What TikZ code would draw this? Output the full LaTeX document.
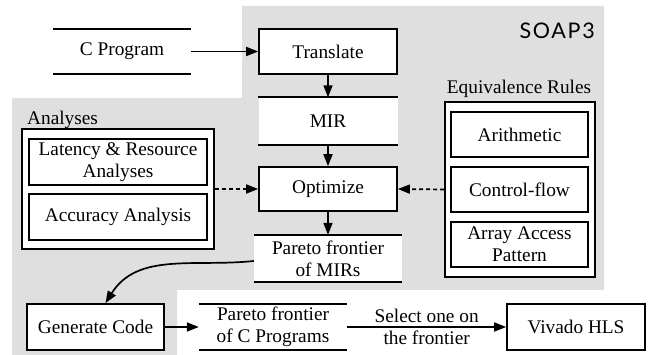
\documentclass[tikz,border=0pt]{standalone}
\usepackage{fontspec}
\newfontfamily\tfont{Liberation Serif}
\newfontfamily\soapfont[LetterSpace=8]{Lato}
\usetikzlibrary{arrows.meta,calc}
\begin{document}
\begin{tikzpicture}[x=1pt,y=-1pt,
  txt/.style={font=\tfont\fontsize{19.3}{22}\selectfont, inner sep=0pt, align=center},
  boxnode/.style={txt, draw, line width=1.7pt, fill=white},
  storenode/.style={txt, fill=white},
  barline/.style={line width=1.7pt},
  arr/.style={line width=1.7pt, -{Triangle[length=12pt,width=9pt]}},
  dasharr/.style={arr, dash pattern=on 4pt off 3pt}
]
\useasboundingbox (0,0) rectangle (656,355);
\fill[gray!25] (12,98) -- (242,98) -- (242,6) -- (604,6) -- (604,290) -- (177,290) -- (177,355) -- (12,355) -- cycle;

% SOAP3 label
\node[anchor=base east, inner sep=0pt, font=\soapfont\fontsize{21.5}{24}\selectfont] (soap) at (595,39) {SOAP3};

% main column
\node[storenode, minimum width=138pt, minimum height=45pt] (cprog) at (122,51.5) {C Program};
\draw[barline] (cprog.north west) -- (cprog.north east);
\draw[barline] (cprog.south west) -- (cprog.south east);

\node[boxnode, minimum width=138pt, minimum height=45pt] (translate) at (328,51.5) {Translate};

\node[storenode, minimum width=139pt, minimum height=47pt] (mir) at (328,121) {MIR};
\draw[barline] (mir.north west) -- (mir.north east);
\draw[barline] (mir.south west) -- (mir.south east);

\node[boxnode, minimum width=138pt, minimum height=44pt] (optimize) at (328,189) {Optimize};

\node[storenode, minimum width=148pt, minimum height=47pt] (pmir) at (328,258.5) {Pareto frontier\\of MIRs};
\draw[barline] (pmir.north west) -- (pmir.north east);
\draw[barline] (pmir.south west) -- (pmir.south east);

% Analyses
\node[txt, anchor=base west] (analab) at (27,125) {Analyses};
\node[boxnode, minimum width=192pt, minimum height=120pt] (anabox) at (118,189) {};
\node[boxnode, minimum width=178pt, minimum height=46pt] (latency) at (118,162) {Latency \& Resource\\Analyses};
\node[boxnode, minimum width=178pt, minimum height=46pt] (accuracy) at (118,217) {Accuracy Analysis};

% Equivalence rules
\node[txt, anchor=base] (eqlab) at (519,94) {Equivalence Rules};
\node[boxnode, minimum width=150pt, minimum height=175pt] (eqbox) at (520,189.5) {};
\node[boxnode, minimum width=137pt, minimum height=45pt] (arith) at (519.5,134.5) {Arithmetic};
\node[boxnode, minimum width=137pt, minimum height=45pt] (ctrl) at (519.5,189.5) {Control-flow};
\node[boxnode, minimum width=137pt, minimum height=45pt] (array) at (519.5,244.5) {Array Access\\Pattern};

% bottom row
\node[boxnode, minimum width=137pt, minimum height=46pt] (gencode) at (95.5,327) {Generate Code};
\node[storenode, minimum width=148pt, minimum height=46pt] (pcprog) at (273,327) {Pareto frontier\\of C Programs};
\draw[barline] (pcprog.north west) -- (pcprog.north east);
\draw[barline] (pcprog.south west) -- (pcprog.south east);
\node[boxnode, minimum width=138pt, minimum height=46pt] (vivado) at (576,327) {Vivado HLS};

% connectors
\draw[arr] (cprog.east) -- (translate.west);
\draw[arr] (translate.south) -- (mir.north);
\draw[arr] (mir.south) -- (optimize.north);
\draw[arr] (optimize.south) -- (pmir.north);
\draw[dasharr] (anabox.east) -- (optimize.west);
\draw[dasharr] (eqbox.west) -- (optimize.east);
\draw[arr] ([yshift=-2.5pt]pmir.west) to[out=186,in=58] ([xshift=10pt]gencode.north);
\draw[arr] (gencode.east) -- (pcprog.west);
\draw[arr] (pcprog.east) -- node[txt, above=3pt] {Select one on} node[txt, below=3pt] {the frontier} (vivado.west);
\end{tikzpicture}
\end{document}
